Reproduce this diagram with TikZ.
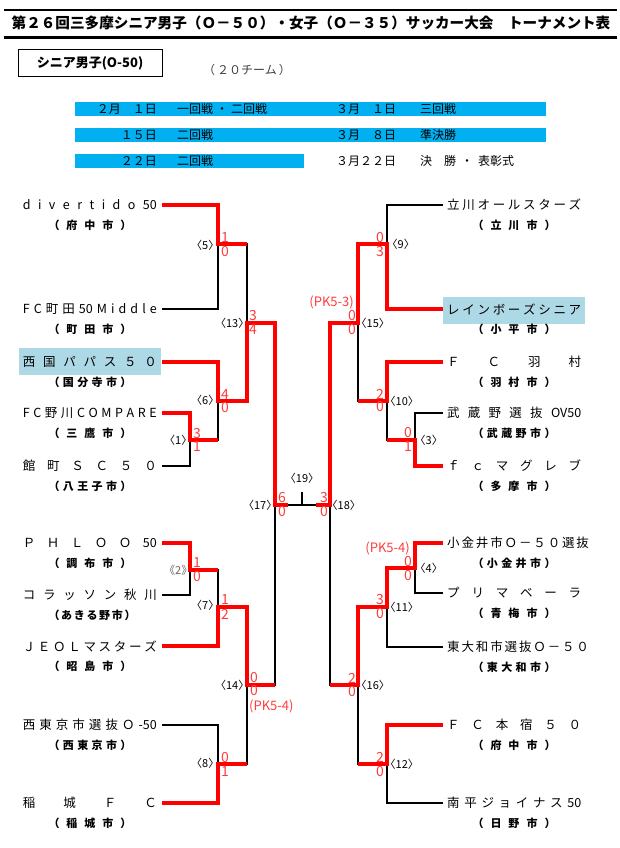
\documentclass[tikz,border=0pt]{standalone}
\usepackage{fontspec}
\setmainfont{Noto Sans CJK JP}
\definecolor{barblue}{RGB}{0,176,240}
\definecolor{hlblue}{RGB}{173,216,230}
\definecolor{redline}{RGB}{255,0,0}
\definecolor{redtext}{RGB}{255,60,60}
\tikzset{
  bk/.style={line width=2.2pt, black},
  rd/.style={line width=4.5pt, redline, line join=miter},
  sc/.style={font=\fontsize{14}{14}\selectfont, text=redtext, inner sep=0pt},
  pk/.style={font=\fontsize{13}{13}\selectfont, text=redtext, inner sep=0pt},
  ml/.style={font=\fontsize{11}{11}\selectfont, inner sep=0pt},
  lname/.style={anchor=east, inner sep=0pt, font=\fontsize{12.5}{13}\selectfont},
  rname/.style={anchor=west, inner sep=0pt, font=\fontsize{12.5}{13}\selectfont},
  city/.style={inner sep=0pt, font=\bfseries\fontsize{11}{12}\selectfont},
  bt/.style={inner sep=0pt, font=\fontsize{12}{12}\selectfont},
}
\newcommand\lnm[1]{\makebox[134pt][s]{#1}}
\newcommand\cnm[1]{\makebox[83pt][s]{#1}}
\newcommand\mlab[1]{\kern-0.5em〈#1〉\kern-0.5em}
\begin{document}
\begin{tikzpicture}[x=1pt,y=-1pt]
\useasboundingbox (0,0) rectangle (619,848);

% ---------- title ----------
\draw[line width=1.5pt] (4,10) -- (617,10);
\draw[line width=3pt] (4,37.5) -- (617,37.5);
\node[inner sep=0pt, font=\bfseries\fontsize{14.6}{15}\selectfont] (title) at (311,23)
  {第２６回三多摩シニア男子（Ｏ－５０）・女子（Ｏ－３５）サッカー大会　トーナメント表};

\node[draw, line width=1pt, minimum width=144pt, minimum height=27pt, inner sep=0pt,
      font=\bfseries\fontsize{13}{13}\selectfont] (cat) at (90,63.5) {シニア男子(O-50)};
\node[anchor=west, inner sep=0pt, font=\fontsize{12}{12}\selectfont, text=black!75] (cnt) at (203,70) {（\,２０チーム\,）};

% ---------- schedule bars ----------
\fill[barblue] (75,102) rectangle (546,116);
\fill[barblue] (75,128) rectangle (546,142);
\fill[barblue] (75,154) rectangle (304,168);
\node[bt, anchor=east] (d1a) at (157,109) {２月　１日};
\node[bt, anchor=west] (e1a) at (177,109) {一回戦\hspace{3pt}・\hspace{3pt}二回戦};
\node[bt, anchor=west] (d1b) at (336,109) {３月　１日};
\node[bt, anchor=west] (e1b) at (420,109) {三回戦};
\node[bt, anchor=east] (d2a) at (157,135) {１５日};
\node[bt, anchor=west] (e2a) at (177,135) {二回戦};
\node[bt, anchor=west] (d2b) at (336,135) {３月　８日};
\node[bt, anchor=west] (e2b) at (420,135) {準決勝};
\node[bt, anchor=east] (d3a) at (157,161) {２２日};
\node[bt, anchor=west] (e3a) at (177,161) {二回戦};
\node[bt, anchor=west] (d3b) at (336,161) {３月２２日};
\node[bt, anchor=west] (e3b) at (420,161) {決　勝\hspace{5pt}・\hspace{5pt}表彰式};

% ---------- highlights ----------
\fill[hlblue] (19,348) rectangle (161,375);
\fill[hlblue] (443,297) rectangle (585,324);

% ---------- left teams ----------
\node[lname] (nL1) at (157,205) {\lnm{d i v e r t i d o 50}};
\node[city] (cL1) at (90,225) {\cnm{（ 府 中 市 ）}};
\node[lname] (nL2) at (157,309) {\lnm{F C 町 田 50 M i d d l e}};
\node[city] (cL2) at (90,329) {\cnm{（ 町 田 市 ）}};
\node[lname] (nL3) at (157,362) {\lnm{西 国 パ パ ス ５ ０}};
\node[city] (cL3) at (90,382) {\cnm{（ 国 分 寺 市 ）}};
\node[lname] (nL4) at (157,413) {\lnm{F C 野 川 C O M P A R E}};
\node[city] (cL4) at (90,433) {\cnm{（ 三 鷹 市 ）}};
\node[lname] (nL5) at (157,466) {\lnm{館 町 Ｓ Ｃ ５ ０}};
\node[city] (cL5) at (90,486) {\cnm{（ 八 王 子 市 ）}};
\node[lname] (nL6) at (157,543) {\lnm{Ｐ Ｈ Ｌ Ｏ Ｏ 50}};
\node[city] (cL6) at (90,563) {\cnm{（ 調 布 市 ）}};
\node[lname] (nL7) at (157,595) {\lnm{コ ラ ッ ソ ン 秋 川}};
\node[city] (cL7) at (90,615) {\cnm{（ あ き る 野 市 ）}};
\node[lname] (nL8) at (157,646) {\lnm{Ｊ Ｅ Ｏ Ｌ マ ス タ ー ズ}};
\node[city] (cL8) at (90,666) {\cnm{（ 昭 島 市 ）}};
\node[lname] (nL9) at (157,725) {\lnm{西 東 京 市 選 抜 Ｏ -50}};
\node[city] (cL9) at (90,745) {\cnm{（ 西 東 京 市 ）}};
\node[lname] (nL10) at (157,803) {\lnm{稲 城 Ｆ Ｃ}};
\node[city] (cL10) at (90,823) {\cnm{（ 稲 城 市 ）}};

% ---------- right teams ----------
\node[rname] (nR1) at (447,205) {\lnm{立 川 オ ー ル ス タ ー ズ}};
\node[city] (cR1) at (514,225) {\cnm{（ 立 川 市 ）}};
\node[rname] (nR2) at (447,309) {\lnm{レ イ ン ボ ー ズ シ ニ ア}};
\node[city] (cR2) at (514,329) {\cnm{（ 小 平 市 ）}};
\node[rname] (nR3) at (447,362) {\lnm{Ｆ Ｃ 羽 村}};
\node[city] (cR3) at (514,382) {\cnm{（ 羽 村 市 ）}};
\node[rname] (nR4) at (447,413) {\lnm{武 蔵 野 選 抜 OV50}};
\node[city] (cR4) at (514,433) {\cnm{（ 武 蔵 野 市 ）}};
\node[rname] (nR5) at (447,466) {\lnm{ｆ ｃ マ グ レ ブ}};
\node[city] (cR5) at (514,486) {\cnm{（ 多 摩 市 ）}};
\node[rname] (nR6) at (447,543) {\lnm{小 金 井 市 Ｏ － ５ ０ 選 抜}};
\node[city] (cR6) at (514,563) {\cnm{（ 小 金 井 市 ）}};
\node[rname] (nR7) at (447,593) {\lnm{プ リ マ ベ ー ラ}};
\node[city] (cR7) at (514,613) {\cnm{（ 青 梅 市 ）}};
\node[rname] (nR8) at (447,647) {\lnm{東 大 和 市 選 抜 Ｏ － ５ ０}};
\node[city] (cR8) at (514,667) {\cnm{（ 東 大 和 市 ）}};
\node[rname] (nR9) at (447,725) {\lnm{Ｆ Ｃ 本 宿 ５ ０}};
\node[city] (cR9) at (514,745) {\cnm{（ 府 中 市 ）}};
\node[rname] (nR10) at (447,803) {\lnm{南 平 ジ ョ イ ナ ス 50}};
\node[city] (cR10) at (514,823) {\cnm{（ 日 野 市 ）}};

% ---------- match junctions ----------
\coordinate (m1) at (190,440);
\coordinate (m2) at (190,570);
\coordinate (m5) at (218,244);
\coordinate (m6) at (218,401);
\coordinate (m7) at (218,607);
\coordinate (m8) at (218,764);
\coordinate (m13) at (247,323);
\coordinate (m14) at (247,685);
\coordinate (m17) at (275,505);
\coordinate (m3) at (415,440);
\coordinate (m4) at (415,568);
\coordinate (m9) at (387,244);
\coordinate (m10) at (387,401);
\coordinate (m11) at (387,607);
\coordinate (m12) at (387,764);
\coordinate (m15) at (358,323);
\coordinate (m16) at (358,685);
\coordinate (m18) at (330,505);
\coordinate (m19) at (302,505);
\coordinate (m19t) at (302,492);
\coordinate (fL) at (288,505);
\coordinate (fR) at (316,505);

% ---------- black bracket ----------
\draw[bk] ([xshift=5pt]nL1.east) -| (m5);  \draw[bk] ([xshift=5pt]nL2.east) -| (m5);
\draw[bk] ([xshift=5pt]nL3.east) -| (m6);  \draw[bk] (m1) -| (m6);
\draw[bk] ([xshift=5pt]nL4.east) -| (m1);  \draw[bk] ([xshift=5pt]nL5.east) -| (m1);
\draw[bk] ([xshift=5pt]nL6.east) -| (m2);  \draw[bk] ([xshift=5pt]nL7.east) -| (m2);
\draw[bk] (m2) -| (m7);  \draw[bk] ([xshift=5pt]nL8.east) -| (m7);
\draw[bk] ([xshift=5pt]nL9.east) -| (m8);  \draw[bk] ([xshift=5pt]nL10.east) -| (m8);
\draw[bk] (m5) -| (m13);  \draw[bk] (m6) -| (m13);
\draw[bk] (m7) -| (m14);  \draw[bk] (m8) -| (m14);
\draw[bk] (m13) -| (m17); \draw[bk] (m14) -| (m17);
\draw[bk] ([xshift=-4pt]nR1.west) -| (m9);  \draw[bk] ([xshift=-4pt]nR2.west) -| (m9);
\draw[bk] ([xshift=-4pt]nR3.west) -| (m10); \draw[bk] (m3) -| (m10);
\draw[bk] ([xshift=-4pt]nR4.west) -| (m3);  \draw[bk] ([xshift=-4pt]nR5.west) -| (m3);
\draw[bk] ([xshift=-4pt]nR6.west) -| (m4);  \draw[bk] ([xshift=-4pt]nR7.west) -| (m4);
\draw[bk] (m4) -| (m11);  \draw[bk] ([xshift=-4pt]nR8.west) -| (m11);
\draw[bk] ([xshift=-4pt]nR9.west) -| (m12); \draw[bk] ([xshift=-4pt]nR10.west) -| (m12);
\draw[bk] (m9) -| (m15);  \draw[bk] (m10) -| (m15);
\draw[bk] (m11) -| (m16); \draw[bk] (m12) -| (m16);
\draw[bk] (m15) -| (m18); \draw[bk] (m16) -| (m18);
\draw[bk] (m17) -- (m18);
\draw[bk] (m19) -- (m19t);

% ---------- red winner paths ----------
\draw[rd] ([xshift=5pt]nL1.east) -| (m5) -- (m5 -| m13);
\draw[rd] ([xshift=5pt]nL3.east) -| (m6) -- (m6 -| m13);
\draw[rd] ([xshift=5pt]nL4.east) -| (m1) -- (m1 -| m6);
\draw[rd] ([xshift=5pt]nL6.east) -| (m2) -- (m2 -| m7);
\draw[rd] ([xshift=5pt]nL8.east) -| (m7) -- (m7 -| m14);
\draw[rd] ([xshift=5pt]nL10.east) -| (m8) -- (m8 -| m14);
\draw[rd] (m6) -| (m13) -- (m13 -| m17);
\draw[rd] (m7) -| (m14) -- (m14 -| m17);
\draw[rd] (m13) -| (m17) -- (fL);
\draw[rd] ([xshift=-4pt]nR2.west) -| (m9) -- (m9 -| m15);
\draw[rd] ([xshift=-4pt]nR3.west) -| (m10) -- (m10 -| m15);
\draw[rd] ([xshift=-4pt]nR5.west) -| (m3) -- (m3 -| m10);
\draw[rd] ([xshift=-4pt]nR6.west) -| (m4) -- (m4 -| m11);
\draw[rd] ([xshift=-4pt]nR9.west) -| (m12) -- (m12 -| m16);
\draw[rd] (m4) -| (m11) -- (m11 -| m16);
\draw[rd] (m9) -| (m15) -- (m15 -| m18);
\draw[rd] (m11) -| (m16) -- (m16 -| m18);
\draw[rd] (m15) -| (m18) -- (fR);

% ---------- match labels ----------
\node[ml, anchor=east] (l1) at (187,440) {\mlab{1}};
\node[ml, anchor=east, text=black!60] (l2) at (187,570) {\kern-0.5em《2》\kern-0.5em};
\node[ml, anchor=east] (l5) at (214,245) {\mlab{5}};
\node[ml, anchor=east] (l6) at (214,400) {\mlab{6}};
\node[ml, anchor=east] (l7) at (214,605) {\mlab{7}};
\node[ml, anchor=east] (l8) at (214,763) {\mlab{8}};
\node[ml, anchor=east] (l13) at (244,323) {\mlab{13}};
\node[ml, anchor=east] (l14) at (244,685) {\mlab{14}};
\node[ml, anchor=east] (l17) at (272,505) {\mlab{17}};
\node[ml] (l19) at (302,478) {\mlab{19}};
\node[ml, anchor=west] (l18) at (332,505) {\mlab{18}};
\node[ml, anchor=west] (l3) at (420,440) {\mlab{3}};
\node[ml, anchor=west] (l4) at (420,568) {\mlab{4}};
\node[ml, anchor=west] (l9) at (392,244) {\mlab{9}};
\node[ml, anchor=west] (l10) at (390,401) {\mlab{10}};
\node[ml, anchor=west] (l11) at (390,607) {\mlab{11}};
\node[ml, anchor=west] (l12) at (390,764) {\mlab{12}};
\node[ml, anchor=west] (l15) at (361,323) {\mlab{15}};
\node[ml, anchor=west] (l16) at (361,685) {\mlab{16}};

% ---------- scores ----------
\node[sc] (s1a) at (197,434) {3};  \node[sc] (s1b) at (197,447) {1};
\node[sc] (s2a) at (197,563) {1};  \node[sc] (s2b) at (197,577) {0};
\node[sc] (s5a) at (225,238) {1};  \node[sc] (s5b) at (225,252) {0};
\node[sc] (s6a) at (225,395) {4};  \node[sc] (s6b) at (225,408) {0};
\node[sc] (s7a) at (225,600) {1};  \node[sc] (s7b) at (225,614) {2};
\node[sc] (s8a) at (225,757) {0};  \node[sc] (s8b) at (225,771) {1};
\node[sc] (s13a) at (253,316) {3}; \node[sc] (s13b) at (253,330) {4};
\node[sc] (s14a) at (254,678) {0}; \node[sc] (s14b) at (254,691) {0};
\node[pk, anchor=west] (p14) at (249,706) {(PK5-4)};
\node[sc] (s17a) at (282,498) {6}; \node[sc] (s17b) at (282,512) {0};
\node[sc] (s18a) at (324,498) {3}; \node[sc] (s18b) at (324,512) {0};
\node[sc] (s3a) at (408,433) {0};  \node[sc] (s3b) at (408,447) {1};
\node[sc] (s4a) at (408,562) {0};  \node[sc] (s4b) at (408,576) {0};
\node[pk, anchor=east] (p4) at (410,548) {(PK5-4)};
\node[sc] (s9a) at (380,238) {0};  \node[sc] (s9b) at (380,252) {3};
\node[sc] (s10a) at (380,394) {2}; \node[sc] (s10b) at (380,407) {0};
\node[sc] (s11a) at (380,600) {3}; \node[sc] (s11b) at (380,614) {0};
\node[sc] (s12a) at (380,757) {2}; \node[sc] (s12b) at (380,771) {0};
\node[sc] (s15a) at (352,316) {0}; \node[sc] (s15b) at (352,330) {0};
\node[pk, anchor=east] (p15) at (354,302) {(PK5-3)};
\node[sc] (s16a) at (352,678) {2}; \node[sc] (s16b) at (352,692) {0};
\end{tikzpicture}
\end{document}
